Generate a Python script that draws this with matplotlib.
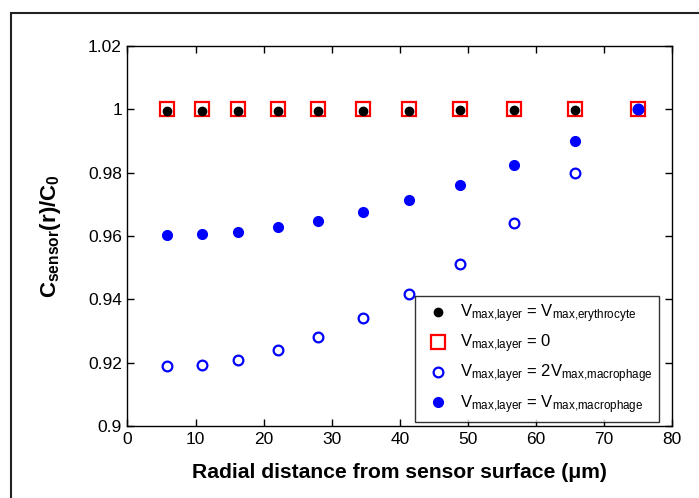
import numpy as np
import matplotlib
matplotlib.use("Agg")
import matplotlib.pyplot as plt
from matplotlib.patches import Rectangle

# radial positions (um)
r = [5.8, 10.9, 16.3, 22.1, 28.0, 34.6, 41.4, 48.9, 56.8, 65.7, 75.0]

# normalised concentration for each case
c_eryth = [0.9995, 0.9995, 0.9995, 0.9995, 0.9995, 0.9995, 0.9996, 0.9997, 0.9997, 0.9998, 1.0]
c_zero = [1.0, 1.0, 1.0, 1.0, 1.0, 1.0, 1.0, 1.0, 1.0, 1.0, 1.0]
c_2macro = [0.9188, 0.9192, 0.9209, 0.9240, 0.9281, 0.9340, 0.9416, 0.9513, 0.9640, 0.9800, 1.0]
c_macro = [0.9603, 0.9607, 0.9614, 0.9628, 0.9648, 0.9676, 0.9714, 0.9762, 0.9825, 0.9900, 1.0]

labels = [r"$V_{\mathrm{max{,}layer}}$ = $V_{\mathrm{max{,}erythrocyte}}$",
          r"$V_{\mathrm{max{,}layer}}$ = 0",
          r"$V_{\mathrm{max{,}layer}}$ = 2$V_{\mathrm{max{,}macrophage}}$",
          r"$V_{\mathrm{max{,}layer}}$ = $V_{\mathrm{max{,}macrophage}}$"]

plt.rcParams["font.family"] = "Liberation Sans"
plt.rcParams["mathtext.fontset"] = "custom"
plt.rcParams["mathtext.rm"] = "Liberation Sans"
plt.rcParams["mathtext.it"] = "Liberation Sans"
plt.rcParams["mathtext.bf"] = "Liberation Sans:bold"

fig = plt.figure(figsize=(6.99, 4.98), dpi=100)
ax = fig.add_axes([0.1824, 0.1446, 0.779, 0.7630])

h_sq, = ax.plot(r, c_zero, "s", ms=10, mfc="none", mec="red", mew=1.6, zorder=2)
h_bk, = ax.plot(r, c_eryth, "o", ms=6, color="black", zorder=3)
h_ho, = ax.plot(r, c_2macro, "o", ms=7, mfc="none", mec="blue", mew=1.6, zorder=3)
h_fb, = ax.plot(r, c_macro, "o", ms=7, color="blue", zorder=4)

ax.set_xlim(0, 80)
ax.set_ylim(0.9, 1.02)
ax.set_xticks(np.arange(0, 81, 10))
ax.set_yticks([0.9, 0.92, 0.94, 0.96, 0.98, 1.0, 1.02])
ax.set_yticklabels(["0.9", "0.92", "0.94", "0.96", "0.98", "1", "1.02"])
ax.tick_params(direction="in", top=True, right=True, length=5, width=1,
               labelsize=12.5, pad=4)
for s in ax.spines.values():
    s.set_linewidth(1)

ax.set_xlabel("Radial distance from sensor surface (\u03bcm)", fontsize=15.2,
              fontweight="bold", labelpad=12)
ax.set_ylabel(r"$\mathbf{C}_{\mathbf{sensor}}\mathbf{(r)/C}_{\mathbf{0}}$",
              fontsize=16, labelpad=18)

leg = ax.legend([h_bk, h_sq, h_ho, h_fb], labels, loc="lower right",
                bbox_to_anchor=(0.976, 0.01), borderaxespad=0, fontsize=12,
                frameon=True, fancybox=False, edgecolor="black",
                handletextpad=0.3, borderpad=0.4, labelspacing=0.45,
                handlelength=2.0)
leg.get_frame().set_linewidth(1)

# outer frame around the figure
fig.add_artist(Rectangle((0.0157, -0.1), 1.2, 1.074, transform=fig.transFigure,
                         fill=False, ec="#222222", lw=1.5))

fig.savefig("out.png", dpi=100)
